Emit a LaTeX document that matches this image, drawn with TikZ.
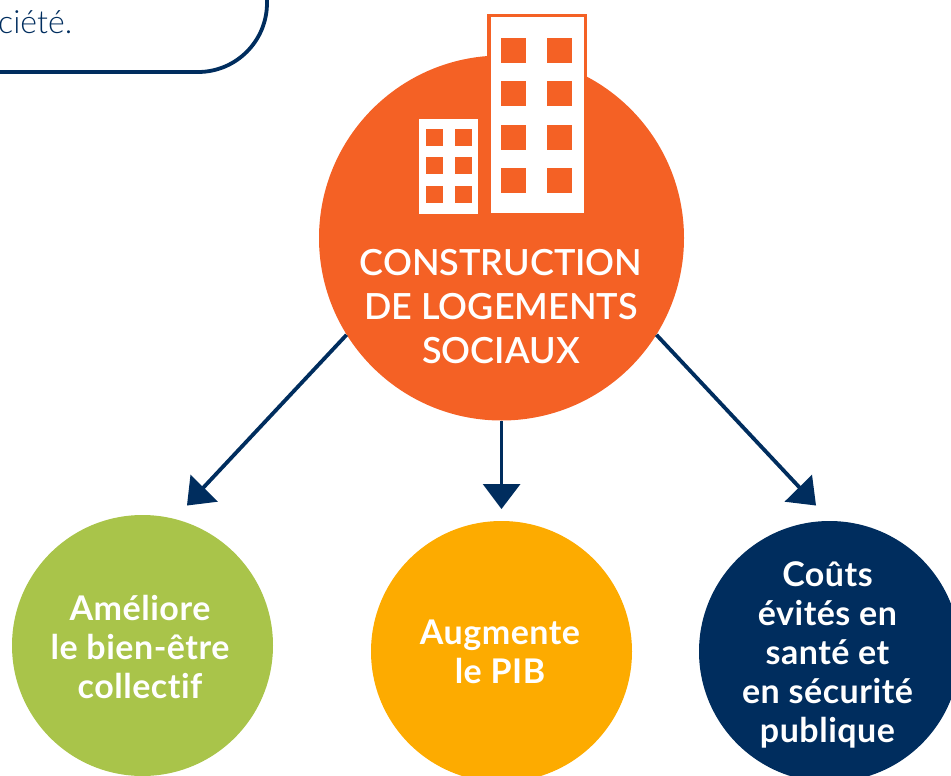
\documentclass[tikz,border=0pt]{standalone}
\usepackage{fontspec}
\setmainfont{Lato}
\newfontfamily\lightfont{Lato Light}
\newfontfamily\medfont{Lato Semibold}[Ligatures=NoCommon]
\newfontfamily\semifont{Lato Bold}[LetterSpace=1.5,Ligatures=NoCommon]
\usetikzlibrary{arrows.meta}
\definecolor{navy}{RGB}{0,45,94}
\definecolor{orng}{RGB}{244,97,37}
\definecolor{grn}{RGB}{169,196,74}
\definecolor{yel}{RGB}{253,171,0}
\tikzset{
  ball/.style={circle,inner sep=0pt,text=white,align=center},
  bigtxt/.style={text=white,align=center,inner sep=0pt,font=\medfont\fontsize{36}{44}\selectfont},
  smalltxt/.style={font=\semifont\fontsize{34}{39}\selectfont},
  link/.style={navy,line width=3.8pt},
  tip/.style={fill=navy,draw=none},
  win/.style={fill=orng,draw=none},
  whitebox/.style={fill=white,draw=none},
}
\begin{document}
\begin{tikzpicture}[x=1pt,y=-1pt]
\useasboundingbox (0,0) rectangle (951,776);
\begin{scope}
\clip (0,0) rectangle (951,776);
% top-left box
\draw[navy,line width=3.8pt] (-20,72) -- (198,72) arc[start angle=90,end angle=0,radius=69] -- (267,-20);
\node[anchor=base west,inner sep=0pt,text=navy] (soc) at (-2,34) {\lightfont\fontsize{32}{36}\selectfont ciété.};
% circles
\node[ball,fill=orng,minimum size=365pt] (hub) at (501.5,238) {};
\node[ball,fill=grn,minimum size=261pt] (a) at (142.5,645.5) {};
\node[ball,fill=yel,minimum size=261pt] (b) at (501.5,651.5) {};
\node[ball,fill=navy,minimum size=261pt] (c) at (829.5,651.5) {};
\node[text=white,align=center,inner sep=0pt,smalltxt] (ta) at (140,647) {Améliore\\le bien-être\\collectif};
\node[text=white,align=center,inner sep=0pt,smalltxt] (tb) at (500,652) {Augmente\\le PIB};
\node[text=white,align=center,inner sep=0pt,smalltxt] (tc) at (827.5,655) {Coûts\\évités en\\santé et\\en sécurité\\publique};
\node[bigtxt] (title) at (501,306.5) {CONSTRUCTION\\DE LOGEMENTS\\SOCIAUX};
% buildings
\fill[orng] (487,14) rectangle (587,120);
\fill[whitebox] (490.5,17.5) rectangle (583.5,213);
\foreach \y in {38,81,125,168} \foreach \x in {501,547}
  \fill[win] (\x,\y) rectangle ++(25,25);
\fill[whitebox] (419,118.5) rectangle (478,213.5);
\foreach \y in {129,157,186} \foreach \x in {426,455}
  \fill[win] (\x,\y) rectangle ++(17,17);
% connectors
\coordinate (la) at (203,488);
\coordinate (lb) at (501.5,490);
\coordinate (lc) at (800,488);
\draw[link] (hub.212) -- (la);
\draw[link] (hub.south) -- (lb);
\draw[link] (hub.328) -- (lc);
\fill[tip] (187,505.5) -- (190.5,474.7) -- (217.9,501.7) -- cycle;
\fill[tip] (501.5,509) -- (482.7,484) -- (520.5,484) -- cycle;
\fill[tip] (816,505.5) -- (812,474.7) -- (784.5,501.7) -- cycle;
\end{scope}
\end{tikzpicture}
\end{document}
